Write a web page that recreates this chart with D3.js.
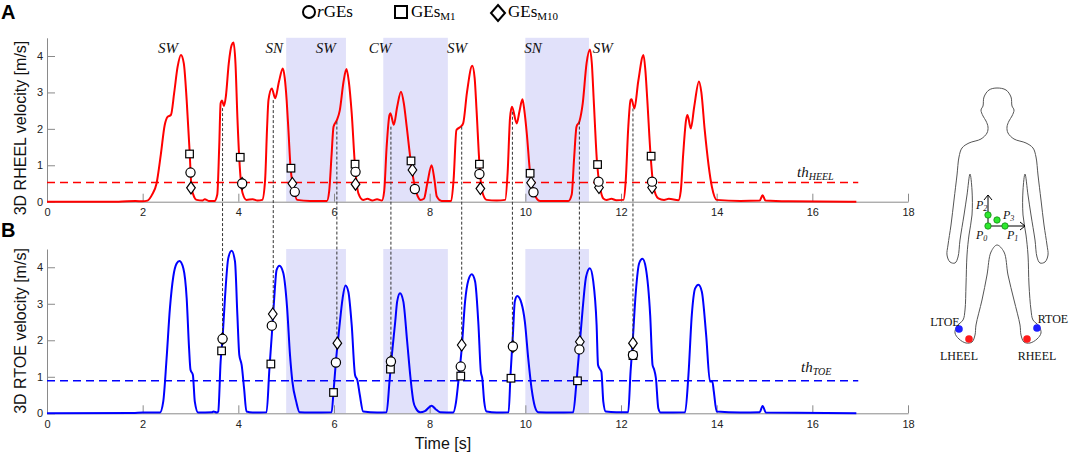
<!DOCTYPE html>
<html><head><meta charset="utf-8">
<script src="https://cdn.jsdelivr.net/npm/d3@7"></script>
<style>
html,body{margin:0;padding:0;background:#fff;}
svg{display:block;}
</style></head>
<body>
<svg id="chart" width="1072" height="455"></svg>
<script>
// ---------------- DATA ----------------
const xTicks = [0,2,4,6,8,10,12,14,16,18];
const yTicks = [0,1,2,3,4];
const shadeStart = [5.0, 7.03, 10.0];
const shadeEnd   = [6.25, 8.38, 11.33];
const gaitLabels = ["SW","SN","SW","CW","SW","SN","SW"];
const gaitLabelT = [2.53, 4.75, 5.83, 6.96, 8.57, 10.16, 11.62];
const heelThreshold = 0.53;
const toeThreshold = 0.89;
const thresholdEnd = 16.96;

const rheel = [[0,0],[1.5,0],[1.85,0.02],[2.0,0.01],[2.1,0.03],[2.2,0.2],[2.29,0.5],[2.38,1.3],[2.46,2.1],[2.52,2.33],[2.59,2.38],[2.66,3.0],[2.73,3.7],[2.80,4.03],[2.86,3.8],[2.92,2.79],[2.98,1.42],[3.02,0.41],[3.08,0.12],[3.13,0.05],[3.25,0.03],[3.3,0.07],[3.38,0.02],[3.5,0.02],[3.56,0.2],[3.60,1.5],[3.63,2.70],[3.66,2.78],[3.70,2.63],[3.74,2.9],[3.80,3.8],[3.86,4.3],[3.90,4.37],[3.94,3.8],[3.98,2.33],[4.03,0.96],[4.09,0.23],[4.17,0.05],[4.3,0.07],[4.4,0.03],[4.5,0.05],[4.56,0.6],[4.6,2.0],[4.63,2.79],[4.70,3.11],[4.77,2.84],[4.85,3.3],[4.93,3.66],[4.97,3.4],[5.01,2.79],[5.05,1.9],[5.09,0.96],[5.15,0.41],[5.23,0.05],[5.5,0.02],[5.85,0.02],[5.9,0.3],[5.95,1.3],[5.99,2.06],[6.06,2.24],[6.12,2.5],[6.2,3.3],[6.26,3.64],[6.31,3.3],[6.37,2.43],[6.44,0.96],[6.51,0.23],[6.61,0.05],[6.7,0.08],[6.8,0.03],[6.9,0.07],[7.0,0.03],[7.05,0.3],[7.1,1.5],[7.16,2.38],[7.18,2.43],[7.25,2.11],[7.32,2.6],[7.40,3.02],[7.46,2.7],[7.52,2.06],[7.61,1.05],[7.69,0.41],[7.75,0.15],[7.81,0.05],[7.88,0.08],[7.95,0.5],[8.04,1.0],[8.1,0.6],[8.15,0.14],[8.25,0.02],[8.45,0.02],[8.5,0.6],[8.56,1.97],[8.65,2.06],[8.70,2.15],[8.78,3.0],[8.89,3.73],[8.94,3.4],[8.98,2.52],[9.04,1.05],[9.09,0.32],[9.19,0.05],[9.4,0.03],[9.58,0.05],[9.63,0.8],[9.68,2.3],[9.72,2.61],[9.82,2.15],[9.88,2.5],[9.94,2.81],[9.98,2.5],[10.03,1.88],[10.10,0.78],[10.17,0.27],[10.31,0.02],[10.9,0.02],[10.97,0.2],[11.02,1.2],[11.07,2.06],[11.13,2.2],[11.2,2.7],[11.28,3.8],[11.35,4.18],[11.39,3.8],[11.43,2.79],[11.50,1.05],[11.56,0.41],[11.63,0.09],[11.7,0.05],[11.8,0.08],[11.9,0.04],[12.05,0.05],[12.1,0.6],[12.15,2.0],[12.20,2.79],[12.22,2.81],[12.28,2.56],[12.36,3.3],[12.47,4.03],[12.51,3.6],[12.55,2.79],[12.62,1.24],[12.68,0.41],[12.78,0.09],[12.9,0.05],[13.0,0.08],[13.2,0.04],[13.25,0.3],[13.3,1.3],[13.36,2.24],[13.39,2.38],[13.46,2.01],[13.53,2.6],[13.63,3.30],[13.68,3.0],[13.75,1.97],[13.90,0.41],[14.0,0.05],[14.5,0.02],[14.9,0.03],[14.96,0.18],[15.02,0.03],[15.5,0.01],[16.92,0]];

const rtoe = [[0,0],[1.8,0.01],[2.0,0.02],[2.36,0.02],[2.43,0.32],[2.50,1.5],[2.57,2.88],[2.64,3.74],[2.71,4.1],[2.77,4.17],[2.85,3.97],[2.92,3.15],[2.97,1.78],[3.0,1.19],[3.05,1.05],[3.09,0.32],[3.16,0.02],[3.45,0.03],[3.48,0.05],[3.55,0.02],[3.58,0.05],[3.63,1.42],[3.67,2.05],[3.72,3.15],[3.79,4.25],[3.86,4.45],[3.93,4.16],[3.98,2.69],[4.02,1.6],[4.07,1.32],[4.12,0.68],[4.17,0.05],[4.3,0.02],[4.59,0.03],[4.65,1.23],[4.70,2.15],[4.75,3.15],[4.80,3.93],[4.86,4.04],[4.94,3.84],[5.02,2.88],[5.08,1.6],[5.13,0.87],[5.21,0.32],[5.28,0.03],[5.5,0.02],[5.95,0.03],[5.99,0.59],[6.04,1.42],[6.11,2.33],[6.18,3.15],[6.24,3.50],[6.30,3.33],[6.37,2.42],[6.44,1.05],[6.49,0.9],[6.54,0.5],[6.61,0.05],[6.9,0.02],[7.10,0.03],[7.16,0.87],[7.21,1.6],[7.28,2.51],[7.32,3.06],[7.38,3.29],[7.45,3.06],[7.53,1.96],[7.60,0.96],[7.66,0.32],[7.71,0.14],[7.80,0.03],[7.9,0.06],[8.04,0.21],[8.12,0.12],[8.22,0.03],[8.49,0.02],[8.55,0.3],[8.60,0.87],[8.67,1.78],[8.74,3.06],[8.81,3.65],[8.88,3.81],[8.95,3.61],[9.02,2.42],[9.07,1.14],[9.10,0.96],[9.14,0.32],[9.19,0.05],[9.4,0.02],[9.65,0.03],[9.69,1.05],[9.74,2.15],[9.78,3.06],[9.83,3.21],[9.92,3.01],[9.99,2.51],[10.06,1.51],[10.13,0.68],[10.20,0.18],[10.27,0.03],[10.6,0.02],[11.0,0.03],[11.07,0.87],[11.13,1.78],[11.20,2.88],[11.27,3.74],[11.35,3.97],[11.42,3.61],[11.49,2.42],[11.52,1.32],[11.56,1.21],[11.59,1.14],[11.63,0.32],[11.68,0.05],[11.9,0.03],[12.15,0.03],[12.20,1.14],[12.24,1.87],[12.31,3.33],[12.38,4.11],[12.45,4.23],[12.52,3.97],[12.61,2.69],[12.66,1.32],[12.69,1.21],[12.73,0.96],[12.78,0.14],[12.83,0.02],[13.34,0.03],[13.41,1.05],[13.48,2.69],[13.55,3.42],[13.62,3.52],[13.69,3.33],[13.78,2.15],[13.86,0.87],[13.91,0.87],[13.94,0.6],[14.0,0.05],[14.5,0.02],[14.9,0.03],[14.96,0.2],[15.03,0.02],[16.92,0]];

// markers (t, v)
const heelCircle  = [[3.00,0.80],[4.08,0.50],[5.18,0.27],[6.45,0.82],[7.69,0.35],[9.04,0.76],[10.17,0.26],[11.53,0.55],[12.65,0.55]];
const heelSquare  = [[2.98,1.31],[4.04,1.22],[5.10,0.92],[6.44,1.03],[7.61,1.12],[9.04,1.03],[10.10,0.78],[11.51,1.02],[12.63,1.25]];
const heelDiamond = [[3.01,0.38],[4.08,0.50],[5.13,0.50],[6.45,0.48],[7.64,0.87],[9.06,0.36],[10.12,0.52],[11.54,0.39],[12.65,0.39]];
const toeCircle   = [[3.67,2.04],[4.70,2.40],[6.04,1.39],[7.19,1.42],[8.65,1.28],[9.74,1.83],[11.13,1.75],[12.25,1.60]];
const toeSquare   = [[3.65,1.71],[4.68,1.35],[5.99,0.57],[7.18,1.21],[8.65,1.02],[9.70,0.96],[11.09,0.89],[12.25,1.58]];
const toeDiamond  = [[3.67,2.04],[4.72,2.72],[6.07,1.92],[7.19,1.42],[8.67,1.87],[9.74,1.83],[11.14,1.96],[12.25,1.92]];

// connectors between panels
const connT     = [3.67, 4.73, 6.06, 7.19, 8.67, 9.73, 11.13, 12.25];
const connTopV  = [2.57, 2.79, 2.20, 2.06, 2.06, 2.47, 2.20, 2.56];
const connBotV  = [2.04, 2.72, 1.92, 1.42, 1.87, 1.83, 1.96, 1.92];

// ---------------- DRAW ----------------
const svg = d3.select("#chart");
svg.append("rect").attr("width",1072).attr("height",455).attr("fill","#fff");

const x = d3.scaleLinear().domain([0,18]).range([47,908]);
const yTop = d3.scaleLinear().domain([0,4.5]).range([201.7,37.8]);
const yBot = d3.scaleLinear().domain([0,4.5]).range([413.3,249]);

const SANS = "'Liberation Sans', Arial, sans-serif";
const SERIF = "'Liberation Serif', 'Times New Roman', serif";

function panel(y, data, color, th){
  const g = svg.append("g");
  g.selectAll("rect.shade").data(shadeStart).enter().append("rect")
    .attr("x", (d)=>x(d)).attr("width",(d,i)=>x(shadeEnd[i])-x(d))
    .attr("y", y(4.5)).attr("height", y(0)-y(4.5))
    .attr("fill","#e1e1fa");
  const ax = g.append("g").attr("transform",`translate(0,${y(0)})`)
    .call(d3.axisBottom(x).tickValues(xTicks).tickFormat(d3.format("d")).tickSize(-8).tickSizeOuter(0).tickPadding(7));
  const ay = g.append("g").attr("transform",`translate(${x(0)},0)`)
    .call(d3.axisLeft(y).tickValues(yTicks).tickFormat(d3.format("d")).tickSize(-8).tickSizeOuter(0).tickPadding(4));
  [ax,ay].forEach(a=>{
    a.selectAll("path,line").attr("stroke","#8a8a8a").attr("stroke-width",1);
    a.selectAll("text").attr("fill","#222").style("font-family",SANS).style("font-size","11px");
  });
  g.append("line").attr("x1",x(0)).attr("x2",x(thresholdEnd))
    .attr("y1",y(th)).attr("y2",y(th))
    .attr("stroke",color).attr("stroke-width",1.5).attr("stroke-dasharray","8,5");
  const line = d3.line().x(d=>x(d[0])).y(d=>y(d[1])).curve(d3.curveMonotoneX);
  g.append("path").datum(data).attr("d",line).attr("fill","none")
    .attr("stroke",color).attr("stroke-width",2);
  return g;
}

panel(yTop, rheel, "#ff0000", heelThreshold);
panel(yBot, rtoe, "#0000ff", toeThreshold);

// connectors
svg.append("g").selectAll("line").data(connT).enter().append("line")
  .attr("x1",d=>x(d)).attr("x2",d=>x(d))
  .attr("y1",(d,i)=>yTop(connTopV[i])).attr("y2",(d,i)=>yBot(connBotV[i]))
  .attr("stroke","#333").attr("stroke-width",1).attr("stroke-dasharray","3,2");

// markers
const diamondPath = (w,h)=>`M0,${-h}L${w},0L0,${h}L${-w},0Z`;
function markers(y, circ, sq, dia){
  const g = svg.append("g").attr("fill","#fff").attr("stroke","#000").attr("stroke-width",1.2);
  g.selectAll("path.d").data(dia).enter().append("path")
    .attr("d",diamondPath(4.3,6)).attr("transform",d=>`translate(${x(d[0])},${y(d[1])})`);
  g.selectAll("rect.s").data(sq).enter().append("rect")
    .attr("x",d=>x(d[0])-3.8).attr("y",d=>y(d[1])-3.8).attr("width",7.6).attr("height",7.6);
  g.selectAll("circle.c").data(circ).enter().append("circle")
    .attr("cx",d=>x(d[0])).attr("cy",d=>y(d[1])).attr("r",4.6);
}
markers(yTop, heelCircle, heelSquare, heelDiamond);
markers(yBot, toeCircle, toeSquare, toeDiamond);

// gait labels
svg.append("g").selectAll("text").data(gaitLabels).enter().append("text")
  .attr("x",(d,i)=>x(gaitLabelT[i])).attr("y",yTop(4.08))
  .attr("text-anchor","middle").style("font-family",SERIF).style("font-style","italic")
  .style("font-size","15px").attr("fill","#111").text(d=>d);

// threshold labels
function thLabel(xp, yp, sub){
  const t = svg.append("text").attr("x",xp).attr("y",yp)
    .style("font-family",SERIF).style("font-style","italic").style("font-size","15px").attr("fill","#111");
  t.append("tspan").text("th");
  t.append("tspan").attr("dy",3).style("font-size","10px").text(sub);
}
thLabel(797, 177, "HEEL");
thLabel(801, 372, "TOE");

// axis titles
svg.append("text").attr("transform","translate(26,128) rotate(-90)").attr("text-anchor","middle")
  .style("font-family",SANS).style("font-size","16px").attr("fill","#111").text("3D RHEEL velocity [m/s]");
svg.append("text").attr("transform","translate(26,331) rotate(-90)").attr("text-anchor","middle")
  .style("font-family",SANS).style("font-size","16px").attr("fill","#111").text("3D RTOE velocity [m/s]");
svg.append("text").attr("x",443).attr("y",449).attr("text-anchor","middle")
  .style("font-family",SANS).style("font-size","16px").attr("fill","#111").text("Time [s]");

// panel letters
svg.append("text").attr("x",1).attr("y",19).style("font-family",SANS).style("font-weight","bold")
  .style("font-size","20px").text("A");
svg.append("text").attr("x",1).attr("y",237).style("font-family",SANS).style("font-weight","bold")
  .style("font-size","20px").text("B");

// legend
const lg = svg.append("g");
lg.append("circle").attr("cx",309).attr("cy",12).attr("r",6).attr("fill","#fff").attr("stroke","#000").attr("stroke-width",2);
const t1 = lg.append("text").attr("x",317).attr("y",17).style("font-family",SERIF).style("font-size","17px");
t1.append("tspan").style("font-style","italic").text("r");
t1.append("tspan").text("GEs");
lg.append("rect").attr("x",395).attr("y",6).attr("width",12).attr("height",12).attr("fill","#fff").attr("stroke","#000").attr("stroke-width",2);
const t2 = lg.append("text").attr("x",411).attr("y",17).style("font-family",SERIF).style("font-size","17px");
t2.append("tspan").text("GEs");
t2.append("tspan").attr("dy",3).style("font-size","11px").text("M1");
lg.append("path").attr("d",diamondPath(7,8)).attr("transform","translate(498,13)")
  .attr("fill","#fff").attr("stroke","#000").attr("stroke-width",2);
const t3 = lg.append("text").attr("x",508).attr("y",17).style("font-family",SERIF).style("font-size","17px");
t3.append("tspan").text("GEs");
t3.append("tspan").attr("dy",3).style("font-size","11px").text("M10");

// ---------------- body figure ----------------
const bodyOutline = [[997,88],[1006,90],[1011,97],[1012,106],[1014,110],[1012,116],[1009,121],[1007,127],[1008,133],[1014,139],[1026,143],[1033,148],[1036,157],[1038,175],[1041,200],[1044,225],[1047,245],[1048,255],[1045,262],[1040,263],[1037,257],[1035,240],[1031,215],[1028,195],[1025,174],[1023,190],[1023,215],[1026,235],[1028,255],[1029,285],[1031,310],[1033,320],[1039,326],[1041,333],[1037,339],[1030,343],[1024,342],[1021,335],[1020,325],[1014,300],[1008,275],[1004,252],[997,245],[991,252],[987,275],[982,300],[976,325],[975,335],[972,342],[966,343],[959,339],[955,333],[957,326],[963,320],[965,310],[966,285],[967,255],[969,235],[972,215],[972,190],[970,174],[967,195],[964,215],[960,240],[958,257],[955,263],[950,262],[947,255],[948,245],[951,225],[954,200],[957,175],[959,157],[962,148],[969,143],[981,139],[987,133],[988,127],[986,121],[983,116],[981,110],[983,106],[984,97],[989,90]];
svg.append("path").datum(bodyOutline)
  .attr("d", d3.line().curve(d3.curveCatmullRomClosed.alpha(0.5)))
  .attr("fill","none").attr("stroke","#555").attr("stroke-width",1);

// pelvis frame arrows
const ag = svg.append("g").attr("stroke","#000").attr("stroke-width",1).attr("fill","none");
ag.append("line").attr("x1",988).attr("y1",226).attr("x2",988).attr("y2",195);
ag.append("path").attr("d","M984,200L988,195L992,200");
ag.append("line").attr("x1",988).attr("y1",226).attr("x2",1025).attr("y2",226);
ag.append("path").attr("d","M1020,222L1025,226L1020,230");
const pts = [[988,215],[997,220],[988,226],[1005,226]];
svg.append("g").selectAll("circle").data(pts).enter().append("circle")
  .attr("cx",d=>d[0]).attr("cy",d=>d[1]).attr("r",3.2)
  .attr("fill","#2ee82e").attr("stroke","#138a13").attr("stroke-width",0.8);
function pLabel(xp, yp, sub){
  const t = svg.append("text").attr("x",xp).attr("y",yp)
    .style("font-family",SERIF).style("font-style","italic").style("font-size","12px").attr("fill","#111");
  t.append("tspan").text("P");
  t.append("tspan").attr("dy",2).style("font-size","8px").text(sub);
}
pLabel(976, 209, "2");
pLabel(1003, 219, "3");
pLabel(976, 239, "0");
pLabel(1007, 239, "1");

// foot markers
const feet = [[959,329,"#1f1fff"],[969,339,"#ff1a1a"],[1027,339,"#ff1a1a"],[1037,328,"#1f1fff"]];
svg.append("g").selectAll("circle").data(feet).enter().append("circle")
  .attr("cx",d=>d[0]).attr("cy",d=>d[1]).attr("r",3.8).attr("fill",d=>d[2]);
const footLabels = [["LTOE",945,326],["RTOE",1053,323],["LHEEL",959,360],["RHEEL",1037,360]];
svg.append("g").selectAll("text").data(footLabels).enter().append("text")
  .attr("x",d=>d[1]).attr("y",d=>d[2]).attr("text-anchor","middle")
  .style("font-family",SERIF).style("font-size","12px").attr("fill","#111").text(d=>d[0]);
</script>
</body></html>
